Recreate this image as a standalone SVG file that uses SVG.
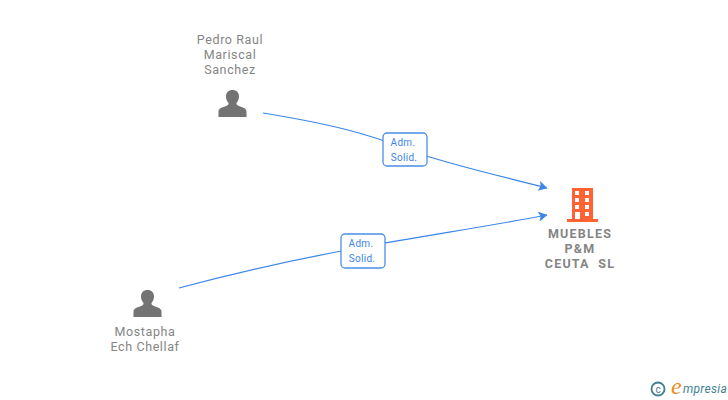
<svg xmlns="http://www.w3.org/2000/svg" width="728" height="400" viewBox="0 0 728 400">
<style>
text{font-family:Roboto,"Liberation Sans",sans-serif}
.n{font-size:12.500px;fill:#858585;text-anchor:middle;letter-spacing:.6px}
.b{font-size:12.500px;font-weight:700;fill:#858585;text-anchor:middle;letter-spacing:1.200px}
.l{font-size:10px;fill:#3b86e8;text-anchor:middle;letter-spacing:.3px}
.c{fill:none;stroke:#3b86e8;stroke-width:1.2}
.p{fill:#737373}
.box{fill:#fff;stroke:#4a8fe8;stroke-width:1.3}
</style>
<defs>
<marker id="a" markerUnits="userSpaceOnUse" markerWidth="10" markerHeight="12" refX="8.500" refY="5" orient="auto"><path d="M0 0L9 5L0 10L2 5Z" fill="#3b86e8"/></marker>
<path id="u" d="M-6.500 -8.500C-6.500 -12.500 -4 -15 0 -15C4 -15 6.500 -12.500 6.500 -8.500C6.500 -5.500 5.300 -3.500 4 -2C3.700 -.5 4.500 .3 7 1.200C11 2.500 14 3.500 14 6.500V12H-14V6.500C-14 3.500 -11 2.500 -7 1.200C-4.500 .3 -3.700 -.5 -4 -2C-5.300 -3.500 -6.500 -5.500 -6.500 -8.500Z"/>
</defs>
<g id="connectors">
<path class="c" d="M263 113C330 124 370 134 405 149C450 165 505 177 547 188" marker-end="url(#a)"/>
<path class="c" d="M179 288C260 266 330 253 363 247C430 235 495 225 547 215" marker-end="url(#a)"/>
</g>
<g id="edge1"><rect class="box" x="383" y="133" width="44" height="33" rx="4"/><text class="l" x="403" y="146">Adm.</text><text class="l" x="404" y="161">Solid.</text></g>
<g id="edge2"><rect class="box" x="341" y="234" width="44" height="34" rx="4"/><text class="l" x="361" y="247">Adm.</text><text class="l" x="362" y="262">Solid.</text></g>
<g id="person1"><use href="#u" class="p" x="232.500" y="105"/><text class="n" x="230" y="44">Pedro Raul</text><text class="n" x="230" y="59">Mariscal</text><text class="n" x="230" y="74">Sanchez</text></g>
<g id="person2"><use href="#u" class="p" x="147.500" y="305"/><text class="n" x="145" y="336">Mostapha</text><text class="n" x="145" y="351">Ech Chellaf</text></g>
<g id="company">
<path fill="#ff6233" fill-rule="evenodd" d="M572 188H593V219H598V222H567V219H572ZM575 191V195H579V191ZM585 191V195H589V191ZM575 198V202H579V198ZM585 198V202H589V198ZM575 205V209H579V205ZM585 205V209H589V205ZM575 212V219H580V212ZM585 212V216H589V212Z"/>
<text class="b" x="580" y="238">MUEBLES</text><text class="b" x="580" y="253">P&amp;M</text><text class="b" x="580" y="268" xml:space="preserve">CEUTA  SL</text></g>
<g id="logo"><circle cx="658" cy="389" r="6.500" fill="none" stroke="#3f7f8f" stroke-width="1.800"/><text x="658" y="392.500" font-size="10" fill="#3f7f8f" text-anchor="middle">c</text>
<text x="671" y="394" font-size="24" font-style="italic" fill="#f08a1d" style="font-family:'Liberation Serif',serif">e</text><text x="683" y="393" font-size="12" font-style="italic" fill="#3f7f8f" letter-spacing=".3">mpresia</text></g>
</svg>
